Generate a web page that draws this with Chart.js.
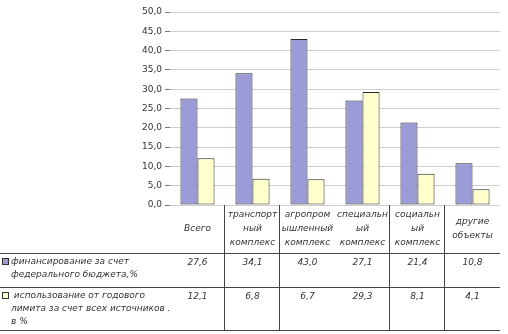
<!DOCTYPE html>
<html lang="ru">
<head>
  <meta charset="UTF-8" />
  <title>Финансирование по комплексам</title>
  <style>
    html, body { margin: 0; padding: 0; background: #fff; }
    #wrap { width: 508px; height: 334px; }
  </style>
  <script src="https://cdn.jsdelivr.net/npm/chart.js"></script>
</head>
<body>
  <div id="wrap"><canvas id="chart" width="508" height="334"></canvas></div>
  <script>
    // categories (header of the data table), split into lines as in the picture
    const categories = [
      ['Всего'],
      ['транспорт', 'ный', 'комплекс'],
      ['агропром', 'ышленный', 'комплекс'],
      ['специальн', 'ый', 'комплекс'],
      ['социальн', 'ый', 'комплекс'],
      ['другие', 'объекты']
    ];
    const federalBudget = [27.6, 34.1, 43.0, 27.1, 21.4, 10.8];
    const annualLimit = [12.1, 6.8, 6.7, 29.3, 8.1, 4.1];
    const seriesNames = [
      ['финансирование за счет', 'федерального бюджета,%'],
      [' использование от годового', 'лимита за счет всех источников .', 'в %']
    ];
    const yTicks = [0, 5, 10, 15, 20, 25, 30, 35, 40, 45, 50];

    const PURPLE = '#9b9bd8';
    const YELLOW = '#ffffcc';
    const fmt = v => v.toFixed(1).replace('.', ',');

    // draws the data table under the plot
    const dataTable = {
      id: 'dataTable',
      afterDraw(chart) {
        const ctx = chart.ctx;
        const area = chart.chartArea;
        const xs = chart.scales.x;
        const colW = (area.right - area.left) / categories.length;
        const top = area.bottom;
        const rowLines = [top + 48, top + 82, top + 125];
        const dividers = [1, 2, 4, 5];

        ctx.save();
        ctx.strokeStyle = '#444';
        ctx.lineWidth = 1;
        rowLines.forEach(y => {
          ctx.beginPath();
          ctx.moveTo(0, y + 0.5);
          ctx.lineTo(area.right, y + 0.5);
          ctx.stroke();
        });
        dividers.forEach(i => {
          const x = Math.round(area.left + i * colW) - 0.5;
          ctx.beginPath();
          ctx.moveTo(x, top);
          ctx.lineTo(x, rowLines[2]);
          ctx.stroke();
        });

        ctx.fillStyle = '#333';
        ctx.font = 'italic 9px "DejaVu Sans"';
        ctx.textAlign = 'center';
        ctx.textBaseline = 'middle';
        const lh = 14;
        categories.forEach((lines, i) => {
          const cx = xs.getPixelForValue(i);
          const y0 = top + 24 - (lines.length - 1) * lh / 2;
          lines.forEach((t, k) => ctx.fillText(t, cx, y0 + k * lh));
          ctx.fillText(fmt(federalBudget[i]), cx, rowLines[0] + 10);
          ctx.fillText(fmt(annualLimit[i]), cx, rowLines[1] + 10);
        });

        ctx.textAlign = 'left';
        const rowsTop = [rowLines[0], rowLines[1]];
        const fills = [PURPLE, YELLOW];
        seriesNames.forEach((lines, r) => {
          const y = rowsTop[r] + 9;
          ctx.fillStyle = fills[r];
          ctx.fillRect(2.5, y - 3.5, 6, 6);
          ctx.strokeStyle = '#333';
          ctx.strokeRect(2.5, y - 3.5, 6, 6);
          ctx.fillStyle = '#333';
          lines.forEach((t, k) => ctx.fillText(t, 11, y + k * 13));
        });
        ctx.restore();
      }
    };

    new Chart(document.getElementById('chart'), {
      type: 'bar',
      data: {
        labels: categories,
        datasets: [
          {
            label: seriesNames[0].join(' '),
            data: federalBudget,
            backgroundColor: PURPLE,
            borderColor: '#2a2a2a',
            borderWidth: 1,
            borderSkipped: false,
            barPercentage: 1,
            categoryPercentage: 0.62
          },
          {
            label: seriesNames[1].join(' '),
            data: annualLimit,
            backgroundColor: YELLOW,
            borderColor: '#2a2a2a',
            borderWidth: 1,
            borderSkipped: false,
            barPercentage: 1,
            categoryPercentage: 0.62
          }
        ]
      },
      options: {
        responsive: false,
        animation: false,
        layout: { padding: { left: 0, right: 8, top: 12, bottom: 0 } },
        plugins: {
          legend: { display: false },
          tooltip: { enabled: false }
        },
        scales: {
          x: {
            ticks: { display: false },
            grid: { display: false },
            border: { display: false },
            afterFit: s => { s.height = 129; }
          },
          y: {
            min: 0,
            max: 50,
            afterBuildTicks: s => { s.ticks = yTicks.map(v => ({ value: v })); },
            ticks: {
              padding: 3,
              color: '#333',
              font: { family: 'DejaVu Sans', size: 9 },
              callback: v => fmt(v)
            },
            grid: { color: '#cfcfcf', tickColor: '#777', tickLength: 5, lineWidth: 1 },
            border: { display: false },
            afterFit: s => { s.width = 170; }
          }
        }
      },
      plugins: [dataTable]
    });
  </script>
</body>
</html>
